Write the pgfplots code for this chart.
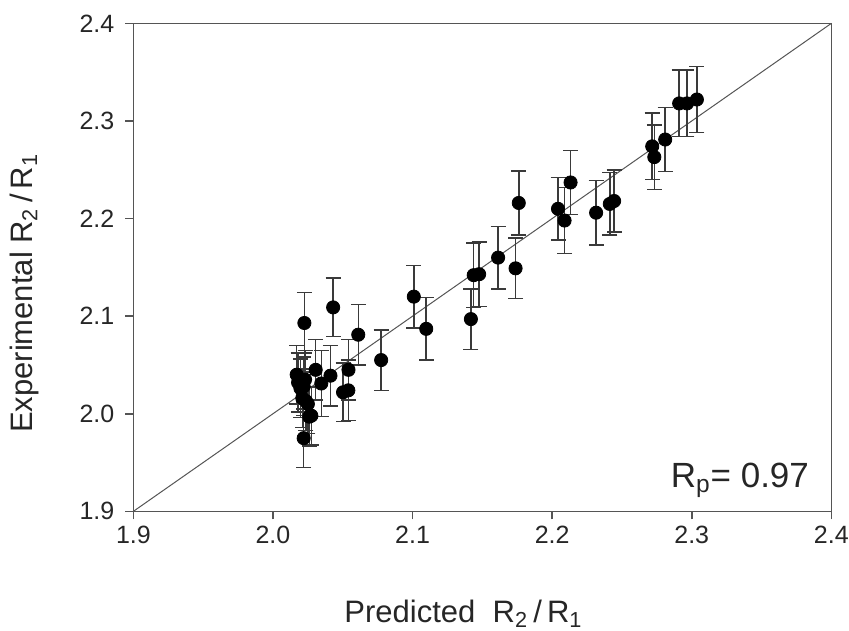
\documentclass[border=0pt]{standalone}
\usepackage{pgfplots}
\pgfplotsset{compat=1.18}
\usepackage{pgfplotstable}
\usepackage{fontspec}
\setmainfont{Liberation Sans}
\definecolor{axgray}{HTML}{555555}
\definecolor{errgray}{HTML}{3A3A3A}
\pgfplotstableread{
x y e
2.3037 2.322 0.034
2.2966 2.318 0.034
2.2910 2.318 0.034
2.2810 2.281 0.033
2.2717 2.274 0.034
2.2732 2.263 0.033
2.2444 2.218 0.032
2.2413 2.215 0.032
2.2315 2.206 0.033
2.2132 2.237 0.033
2.2042 2.210 0.032
2.2089 2.198 0.034
2.1761 2.216 0.033
2.1738 2.149 0.031
2.1613 2.160 0.032
2.1477 2.143 0.033
2.1438 2.142 0.033
2.1418 2.097 0.031
2.1098 2.087 0.032
2.1009 2.120 0.032
2.0775 2.055 0.031
2.0611 2.081 0.031
2.0431 2.109 0.030
2.0541 2.045 0.031
2.0540 2.024 0.031
2.0502 2.022 0.030
2.0412 2.039 0.031
2.0346 2.031 0.034
2.0306 2.045 0.031
2.0225 2.093 0.031
2.0170 2.040 0.030
2.0197 2.026 0.030
2.0230 2.035 0.030
2.0210 2.016 0.030
2.0236 2.013 0.030
2.0260 1.997 0.030
2.0275 1.998 0.030
2.0220 1.975 0.030
2.0250 2.010 0.030
2.0180 2.032 0.030
2.0220 2.028 0.030
}\datatable
\begin{document}
\begin{tikzpicture}
\begin{axis}[
  scale only axis,
  width=349pt, height=244pt,
  xmin=1.9, xmax=2.4, ymin=1.9, ymax=2.4,
  xtick={1.9,2.0,2.1,2.2,2.3,2.4},
  ytick={1.9,2.0,2.1,2.2,2.3,2.4},
  xticklabels={1.9,2.0,2.1,2.2,2.3,2.4},
  yticklabels={1.9,2.0,2.1,2.2,2.3,2.4},
  tick align=outside,
  major tick length=4pt,
  xtick pos=bottom, ytick pos=left,
  axis line style={axgray, line width=0.8pt},
  every tick/.style={axgray, line width=0.8pt},
  tick label style={font=\fontsize{12.5}{14}\selectfont, text=black!85},
  yticklabel style={xshift=-2pt},
  /pgf/number format/assume math mode=true,
  xlabel={Predicted\ \ R\textsubscript{2}\,/\,R\textsubscript{1}},
  ylabel={Experimental R\textsubscript{2}\,/\,R\textsubscript{1}},
  label style={font=\fontsize{15.5}{17}\selectfont, text=black!85},
  xlabel style={at={(axis description cs:0.473,-0.2275)}, anchor=base},
  ylabel style={at={(axis description cs:-0.145,0.447)}, anchor=base, rotate=0},
  clip=false,
]
\addplot[axgray, line width=0.5pt] coordinates {(1.9,1.9) (2.4,2.4)};
\addplot[only marks, mark=*, mark size=3.3pt, black,
  mark options={fill=black, draw=black},
  error bars/.cd, y dir=both, y explicit,
  error bar style={errgray, line width=0.75pt},
  error mark options={rotate=90, mark size=3.75pt, errgray, line width=0.75pt}]
  table[x=x, y=y, y error=e] {\datatable};
\node[anchor=base west, font=\fontsize{17.5}{19}\selectfont, text=black!85, inner sep=0pt]
  at (axis cs:2.2847,1.9246) {R\textsubscript{p}= 0.97};
\end{axis}
\pgfresetboundingbox
\path ([xshift=-66.7pt, yshift=-59.5pt]current axis.south west) rectangle ([xshift=8.85pt, yshift=11.7pt]current axis.north east);
\end{tikzpicture}
\end{document}
